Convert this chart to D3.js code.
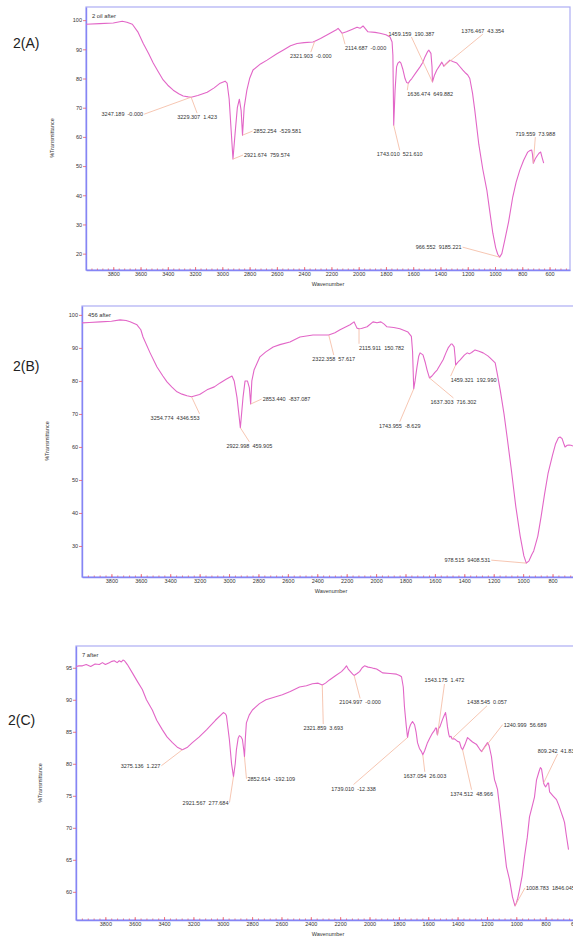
<!DOCTYPE html>
<html>
<head>
<meta charset="utf-8">
<script src="https://cdn.jsdelivr.net/npm/d3@7"></script>
<style>
  body { margin: 0; background: #fff; }
  svg { display: block; font-family: "Liberation Sans", Arial, sans-serif; }
</style>
</head>
<body>
<svg id="chart" width="573" height="938"></svg>
<script>
// ---- data ----
var xTicks = [3800, 3600, 3400, 3200, 3000, 2800, 2600, 2400, 2200, 2000, 1800, 1600, 1400, 1200, 1000, 800, 600];
var minorTicks = d3.range(3960, 450, -40);

var wnA = [4000, 3900, 3800, 3734, 3700, 3660, 3620, 3580, 3540, 3507, 3470, 3434, 3400, 3360, 3320, 3287, 3250, 3229, 3180, 3111,
  3060, 3016, 2980, 2965, 2950, 2935, 2922, 2905, 2890, 2875, 2862, 2852, 2840, 2820, 2800, 2775, 2720, 2672, 2600, 2555,
  2500, 2452, 2400, 2335, 2322, 2280, 2210, 2160, 2151, 2135, 2122, 2090, 2050, 2012, 1990, 1968, 1950, 1932, 1880, 1844,
  1800, 1770, 1755, 1749, 1743, 1733, 1722, 1712, 1700, 1690, 1675, 1660, 1648, 1636, 1625, 1610, 1580, 1550, 1530, 1514,
  1495, 1485, 1470, 1462, 1459, 1445, 1427, 1405, 1390, 1383, 1376, 1360, 1331, 1310, 1280, 1260, 1236, 1214, 1200, 1185,
  1165, 1148, 1119, 1090, 1060, 1040, 1016, 995, 980, 966, 950, 928, 900, 870, 845, 818, 790, 760, 745, 731,
  725, 719, 705, 687, 675, 665, 655, 643];
var tA = [98.6, 98.8, 99.0, 99.6, 99.3, 98.6, 96, 92, 88.5, 85.3, 82.3, 79.5, 77.7, 76, 74.8, 74, 73.7, 73.6, 74.2, 75.3,
  76.8, 78.4, 79.1, 78.4, 73, 62, 52.4, 62, 70, 72.9, 69, 60.6, 70, 76, 80, 82.9, 85, 86.3, 88.5, 89.7,
  91.2, 92, 92.3, 92.5, 92.8, 93.7, 95.5, 96.8, 97.2, 96.3, 95.5, 96, 96.8, 97.6, 97.2, 98, 97, 96, 95.8, 95.5,
  95, 94.2, 92.5, 88, 64, 76, 84, 85.3, 85.8, 85.3, 83, 80, 78.6, 78.4, 79.2, 80, 82, 84, 85.5, 87.4,
  89.2, 89.7, 88.6, 84, 78.8, 81, 82.9, 84.5, 85.6, 85, 84.2, 85, 86.3, 85.8, 85.3, 84.2, 82.9, 81.8, 81.2, 80,
  75, 69, 57.5, 49, 41.8, 35, 27, 22, 19.8, 18.8, 20, 24.7, 31, 39.4, 44.5, 48.6, 52, 54.8, 55.3, 55.5,
  54, 51, 52.5, 53.8, 54.5, 54.8, 53, 51];

var wnB = [4000, 3950, 3877, 3800, 3741, 3700, 3673, 3626, 3600, 3585, 3537, 3490, 3450, 3422, 3390, 3354, 3320, 3286, 3255, 3200,
  3150, 3100, 3061, 3020, 2980, 2965, 2946, 2923, 2905, 2891, 2875, 2862, 2853, 2845, 2830, 2790, 2750, 2700, 2654, 2586,
  2518, 2429, 2322, 2280, 2245, 2177, 2150, 2130, 2116, 2100, 2061, 2021, 1994, 1967, 1945, 1926, 1880, 1838, 1783, 1760,
  1752, 1744, 1735, 1722, 1710, 1701, 1681, 1665, 1653, 1637, 1620, 1600, 1585, 1560, 1544, 1525, 1510, 1490, 1483, 1469,
  1462, 1459, 1445, 1428, 1400, 1380, 1366, 1350, 1327, 1300, 1272, 1240, 1225, 1190, 1175, 1156, 1130, 1109, 1080, 1050,
  1020, 995, 978.5, 960, 940, 928, 900, 878, 855, 830, 800, 779, 760, 749, 735, 722, 715, 700, 688, 675, 661];
var tB = [97.6, 97.7, 97.9, 98.1, 98.5, 98.3, 97.9, 97.0, 95.5, 93.3, 88.5, 84.2, 81.5, 79.7, 78.2, 76.7, 76, 75.5, 75.2, 75.9,
  77.3, 78.2, 79.4, 80.5, 81.5, 80, 75, 65.8, 75, 80, 80, 78, 73, 80, 83.3, 87.3, 88.8, 90.3, 91, 91.8,
  93.3, 93.9, 93.9, 94.6, 95.5, 97, 97.9, 96, 95.8, 95.9, 96.4, 97.9, 97.6, 97.9, 97.2, 96.4, 96.2, 95.8, 94.8, 93.5,
  89, 77.6, 80, 84.2, 87.5, 88.5, 87.9, 85.5, 83.3, 80.9, 81.5, 82.6, 83.3, 85.2, 86.4, 88.5, 90, 91.2, 91.2, 90.3,
  87, 84.8, 85.6, 86.4, 87.8, 88.5, 88.2, 88.6, 89.4, 89, 88.5, 87.6, 87, 85.5, 82, 77.3, 70, 63, 53, 42,
  33, 27, 24.8, 25.5, 27.5, 28.5, 33, 38.8, 45.5, 52.1, 57.5, 61, 62.8, 63, 62.5, 60.8, 60, 60.5, 60.6, 60.5, 60.3];

var wnC = [4000, 3980, 3956, 3930, 3900, 3870, 3841, 3820, 3800, 3773, 3755, 3739, 3720, 3705, 3691, 3680, 3670, 3660, 3650, 3616,
  3580, 3548, 3520, 3480, 3450, 3411, 3380, 3343, 3310, 3275, 3240, 3207, 3160, 3111, 3050, 2996, 2982, 2975, 2955, 2940,
  2927, 2915, 2907, 2895, 2887, 2875, 2866, 2856, 2852, 2846, 2839, 2820, 2798, 2750, 2706, 2650, 2594, 2540, 2477, 2430,
  2389, 2350, 2330, 2322, 2300, 2273, 2230, 2191, 2170, 2157, 2145, 2130, 2115, 2105, 2085, 2068, 2050, 2034, 2010, 1986,
  1970, 1952, 1930, 1911, 1860, 1816, 1795, 1782, 1770, 1762, 1750, 1741, 1730, 1721, 1707, 1693, 1683, 1673, 1660, 1646,
  1637, 1625, 1605, 1590, 1571, 1555, 1550, 1544, 1540, 1537, 1530, 1520, 1503, 1492, 1482, 1475, 1469, 1460, 1455, 1445,
  1438, 1421, 1400, 1387, 1375, 1366, 1350, 1332, 1318, 1298, 1270, 1250, 1236, 1220, 1205, 1196, 1185, 1169, 1158, 1148,
  1138, 1128, 1101, 1085, 1067, 1046, 1026, 1009, 999, 990, 978, 960, 944, 925, 910, 890, 876, 862, 845, 836,
  828, 820, 814, 809, 800, 794, 785, 780, 773, 750, 726, 710, 692, 680, 671, 660, 644];
var tC = [95.2, 95.3, 95.3, 95.5, 95.2, 95.6, 95.5, 95.8, 95.5, 95.8, 96, 96.1, 95.8, 96.1, 95.9, 96.2, 96.1, 95.8, 95.5, 94.2,
  92.8, 91.6, 90, 88.4, 86.8, 85.3, 84.2, 83.3, 82.6, 82.2, 82.6, 83.3, 84.2, 85.3, 86.8, 88, 87.8, 87.5, 83.8, 80,
  78, 80, 82.2, 84, 84.4, 84.2, 83.8, 82, 81.1, 84, 86.4, 87.6, 88.4, 89.4, 90, 90.4, 90.8, 91.3, 92, 92.2,
  92.5, 92.6, 92.4, 92.3, 92.6, 93.1, 93.8, 94.4, 94.9, 95.3, 94.8, 94.4, 94, 93.8, 94.1, 94.4, 95, 95.3, 95.1, 95,
  94.9, 94.8, 94.5, 94.2, 94.1, 94, 93.8, 93.6, 92, 88.9, 86, 84.1, 85.5, 86.1, 86.6, 86.1, 85, 83.3, 82.4, 81.9,
  81.4, 82, 83.3, 84, 84.8, 85.3, 85.6, 85.6, 84.7, 84.5, 85.5, 85.8, 86.9, 87.5, 88, 87, 85.8, 84.6, 84.2, 84.3,
  83.9, 83.9, 83.5, 83.4, 82.5, 82.2, 83, 84.1, 83.8, 83.4, 83, 82.3, 81.9, 82.5, 83, 83.3, 82.8, 81.1, 79, 77.5,
  76.8, 76, 70.8, 67.5, 63.9, 61.9, 59.2, 57.8, 58.3, 59, 60.3, 62.5, 65.5, 68.5, 71.7, 73.5, 74.8, 77.5, 78.8, 79.4,
  79.2, 78, 77, 76.7, 76.4, 76.6, 77, 77, 75.6, 75, 74.4, 73.5, 72.3, 71.5, 70.8, 69, 66.6];

// peak annotations: wavenumber and the instrument's label text
var annA = [[3229, "3247.189  -0.000"], [3229, "3229.307  1.423"], [2922, "2921.674  759.574"], [2852, "2852.254  -529.581"],
  [2322, "2321.903  -0.000"], [2122, "2114.687  -0.000"], [1459, "1459.159  190.387"], [1376, "1376.467  43.354"],
  [1636, "1636.474  649.882"], [1743, "1743.010  521.610"], [966, "966.552  9185.221"], [719, "719.559  73.988"]];
var annB = [[3255, "3254.774  4346.553"], [2923, "2922.998  459.905"], [2853, "2853.440  -837.087"], [2322, "2322.358  57.617"],
  [2116, "2115.911  150.782"], [1744, "1743.955  -8.629"], [1637, "1637.303  716.302"], [1459, "1459.321  192.990"],
  [978.5, "978.515  9408.531"]];
var annC = [[3275, "3275.136  1.227"], [2927, "2921.567  277.684"], [2852, "2852.614  -192.109"], [2322, "2321.859  3.693"],
  [2105, "2104.997  -0.000"], [1741, "1739.010  -12.338"], [1637, "1637.054  26.003"], [1537, "1543.175  1.472"],
  [1438, "1438.545  0.057"], [1366, "1374.512  48.966"], [1236, "1240.999  56.689"], [1009, "1008.783  1846.045"],
  [814, "809.242  41.836"]];

// leader line end offsets (px) and where the text sits
var annPosA = [[-47, 17, "end"], [6, 16, "below"], [10, -4, "start"], [10, -4, "start"], [-4, 11, "below"], [3, 11, "belowStart"],
  [-21, -45, "top"], [39, -32, "top"], [-1, 7, "belowStart"], [6, 25, "below"], [-37, -10, "end"], [2, -26, "top"]];
var annPosB = [[8, 17, "belowEnd"], [9, 14, "below"], [11, -5, "start"], [5, 20, "below"], [0, 15, "belowStart"],
  [-14, 33, "below"], [24, 20, "below"], [-5, 11, "belowStart"], [-35, -3, "end"]];
var annPosC = [[-21, 16, "end"], [-4, 26, "end"], [2, 22, "start"], [1, 39, "below"], [6, 23, "below"], [-54, 47, "below"],
  [2, 17, "below"], [7, -51, "top"], [35, -33, "top"], [9, 40, "below"], [21, -27, "start"], [10, -18, "start"], [14, -29, "top"]];

//define style
var curveColor = "#e266c7";
var frameColor = "#adadf3";
var axisColor = "#8585f5";
var tickColor = "#ea5a6a";
var leaderColor = "#f4b79e";
var textColor = "#333";

var svg = d3.select("#chart");
svg.append("rect").attr("width", 573).attr("height", 938).attr("fill", "#fff");

function valueAt(wns, vals, w) {
  for (var i = 0; i < wns.length - 1; i++) {
    if (w <= wns[i] && w >= wns[i + 1]) {
      var f = (wns[i] - w) / (wns[i] - wns[i + 1]);
      return vals[i] + f * (vals[i + 1] - vals[i]);
    }
  }
  return vals[vals.length - 1];
}

function drawPanel(p, idx) {
  var g = svg.append("g").attr("transform", "translate(" + p.left + "," + p.top + ")");
  var x = d3.scaleLinear().domain([4000, 450]).range([0, p.width]);
  var y = d3.scaleLinear().domain(p.yDomain).range([p.height, 0]);

  g.append("clipPath").attr("id", "clip" + idx)
    .append("rect").attr("width", p.width).attr("height", p.height);

  g.append("rect")
    .attr("width", p.width).attr("height", p.height)
    .attr("fill", "none").attr("stroke", frameColor).attr("stroke-width", 1.2);

  // minor ticks along the bottom
  var minor = g.append("g")
    .attr("transform", "translate(0," + p.height + ")")
    .call(d3.axisBottom(x).tickValues(minorTicks).tickSizeInner(-1.5).tickSizeOuter(0).tickFormat(""));
  minor.select(".domain").remove();
  minor.selectAll("line").attr("stroke", tickColor).attr("stroke-width", 0.8);

  var xa = g.append("g")
    .attr("transform", "translate(0," + p.height + ")")
    .call(d3.axisBottom(x).tickValues(xTicks).tickSizeInner(-3).tickSizeOuter(0).tickPadding(2.5).tickFormat(d3.format("d")));
  xa.select(".domain").attr("stroke", axisColor).attr("stroke-width", 1.4);
  xa.selectAll("line").attr("stroke", tickColor).attr("stroke-width", 0.8);
  xa.selectAll("text").attr("font-size", "5.5px").attr("fill", textColor);

  var ya = g.append("g")
    .call(d3.axisLeft(y).tickValues(p.yTicks).tickSizeInner(3).tickSizeOuter(0).tickPadding(1));
  ya.select(".domain").attr("stroke", axisColor).attr("stroke-width", 1.4);
  ya.selectAll("line").attr("stroke", tickColor).attr("stroke-width", 0.8);
  ya.selectAll("text").attr("font-size", "5.5px").attr("fill", textColor);

  var pts = p.wn.map(function (w, i) { return [w, p.t[i]]; });
  g.append("path")
    .datum(pts)
    .attr("clip-path", "url(#clip" + idx + ")")
    .attr("fill", "none")
    .attr("stroke", curveColor)
    .attr("stroke-width", 1.1)
    .attr("stroke-linejoin", "round")
    .attr("d", d3.line().x(function (d) { return x(d[0]); }).y(function (d) { return y(d[1]); }));

  // peak labels with leader lines
  p.ann.forEach(function (a, i) {
    var pos = p.annPos[i];
    var px = x(a[0]), py = y(valueAt(p.wn, p.t, a[0]));
    var ex = px + pos[0], ey = py + pos[1];
    g.append("line")
      .attr("x1", px).attr("y1", py).attr("x2", ex).attr("y2", ey)
      .attr("stroke", leaderColor).attr("stroke-width", 0.8);
    var tx = ex, ty = ey + 2, anchor = "middle";
    if (pos[2] === "start") { tx = ex + 1; anchor = "start"; }
    else if (pos[2] === "end") { tx = ex - 1; anchor = "end"; }
    else if (pos[2] === "top") { ty = ey - 1.5; }
    else if (pos[2] === "below") { ty = ey + 6; }
    else if (pos[2] === "belowStart") { ty = ey + 6; anchor = "start"; }
    else if (pos[2] === "belowEnd") { ty = ey + 6; anchor = "end"; }
    g.append("text")
      .attr("x", tx).attr("y", ty)
      .attr("text-anchor", anchor)
      .attr("font-size", "5.5px")
      .attr("fill", textColor)
      .style("white-space", "pre")
      .text(a[1]);
  });

  g.append("text")
    .attr("x", p.titleX).attr("y", 11)
    .attr("font-size", "5.8px").attr("fill", textColor)
    .text(p.title);

  svg.append("text")
    .attr("x", p.wnLabelX).attr("y", p.top + p.height + 16)
    .attr("text-anchor", "middle")
    .attr("font-size", "5.5px").attr("fill", textColor)
    .text("Wavenumber");

  svg.append("text")
    .attr("transform", "translate(" + p.yLabelX + "," + p.yLabelY + ") rotate(-90)")
    .attr("text-anchor", "middle")
    .attr("font-size", "5.5px").attr("fill", textColor)
    .text("%Transmittance");

  svg.append("text")
    .attr("x", p.tagX).attr("y", p.tagY)
    .attr("font-size", "14px").attr("fill", "#222")
    .text(p.tag);
}

drawPanel({ left: 86, top: 7, width: 484, height: 263, yDomain: [14.4, 104.5], yTicks: d3.range(20, 101, 10),
  wn: wnA, t: tA, ann: annA, annPos: annPosA, title: "2 oil after", titleX: 6,
  wnLabelX: 328, yLabelX: 54, yLabelY: 138, tag: "2(A)", tagX: 13, tagY: 48 }, 0);

drawPanel({ left: 82, top: 306, width: 522, height: 271, yDomain: [20.6, 102.7], yTicks: d3.range(30, 101, 10),
  wn: wnB, t: tB, ann: annB, annPos: annPosB, title: "456 after", titleX: 6,
  wnLabelX: 331, yLabelX: 49, yLabelY: 441, tag: "2(B)", tagX: 13, tagY: 371 }, 1);

drawPanel({ left: 76, top: 646, width: 521, height: 274, yDomain: [55.6, 98.4], yTicks: d3.range(60, 96, 5),
  wn: wnC, t: tC, ann: annC, annPos: annPosC, title: "7 after", titleX: 6,
  wnLabelX: 328, yLabelX: 42, yLabelY: 783, tag: "2(C)", tagX: 8, tagY: 725 }, 2);
</script>
</body>
</html>
